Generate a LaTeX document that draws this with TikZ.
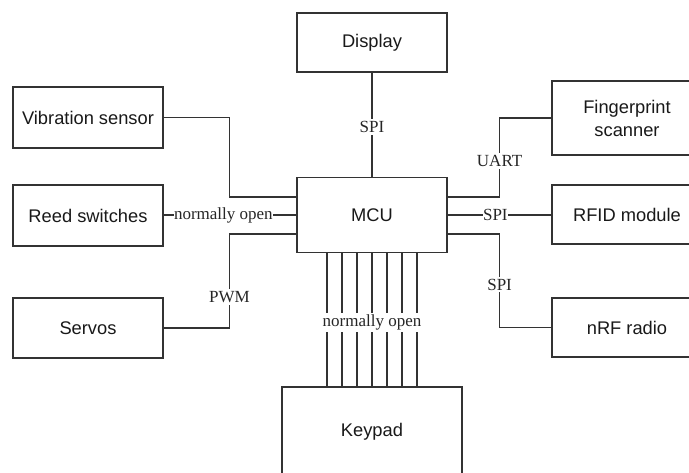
\documentclass[tikz,border=0pt]{standalone}
\usepackage{fontspec}
\setmainfont{Liberation Sans}
\newfontfamily\lblfont{Liberation Serif}
\definecolor{ln}{RGB}{51,51,51}
\begin{document}
\begin{tikzpicture}[x=1pt,y=-1pt,
  blk/.style={draw=ln,line width=1.2pt,fill=white,inner sep=0pt,minimum width=150pt,
    align=center,font=\fontsize{18.3}{23}\selectfont,text=black!90},
  wire/.style={draw=ln,line width=1.2pt},
  lbl/.style={fill=white,inner xsep=0.5pt,inner ysep=2pt,font=\lblfont\fontsize{17}{19}\selectfont,text=black!85}]
\clip (0,0) rectangle (689,473);
\fill[white] (0,0) rectangle (689,473);
% nodes
\node[blk,minimum height=61pt] (vib) at (88,117.5) {Vibration sensor};
\node[blk,minimum height=61pt] (reed) at (88,215.5) {Reed switches};
\node[blk,minimum height=60pt] (servo) at (88,328) {Servos};
\node[blk,minimum height=59pt] (disp) at (372,42.5) {Display};
\node[blk,minimum height=75pt] (mcu) at (372,215) {MCU};
\node[blk,minimum height=74pt] (fp) at (627,118) {Fingerprint\\scanner};
\node[blk,minimum height=59pt] (rfid) at (627,214.5) {RFID module};
\node[blk,minimum height=59pt] (nrf) at (627,327.5) {nRF radio};
\node[blk,minimum width=180pt,minimum height=90pt] (key) at (372,432) {Keypad};
% connectors
\draw[wire] (vib.east) -| ([xshift=-67pt,yshift=18pt]mcu.west) -- ([yshift=18pt]mcu.west);
\draw[wire] (reed.east |- mcu.west) -- node[lbl,pos=0.45]{normally open} (mcu.west);
\draw[wire] (servo.east) -| node[lbl,pos=0.665]{PWM} ([xshift=-67pt,yshift=-19pt]mcu.west) -- ([yshift=-19pt]mcu.west);
\draw[wire] (disp.south) -- node[lbl,pos=0.52]{SPI} (mcu.north);
\draw[wire] (fp.west) -| node[lbl,pos=0.772]{UART} ([xshift=52pt,yshift=18pt]mcu.east) -- ([yshift=18pt]mcu.east);
\draw[wire] (mcu.east) -- node[lbl,pos=0.46]{SPI} (rfid.west |- mcu.east);
\draw[wire] (nrf.west) -| node[lbl,pos=0.729]{SPI} ([xshift=52pt,yshift=-19pt]mcu.east) -- ([yshift=-19pt]mcu.east);
\foreach \i in {-3,-2,-1,1,2,3}{
  \draw[wire] ([xshift=\i*15pt]mcu.south) -- ([xshift=\i*15pt]key.north);
}
\draw[wire] (mcu.south) -- node[lbl,pos=0.52]{normally open} (key.north);
\end{tikzpicture}
\end{document}
